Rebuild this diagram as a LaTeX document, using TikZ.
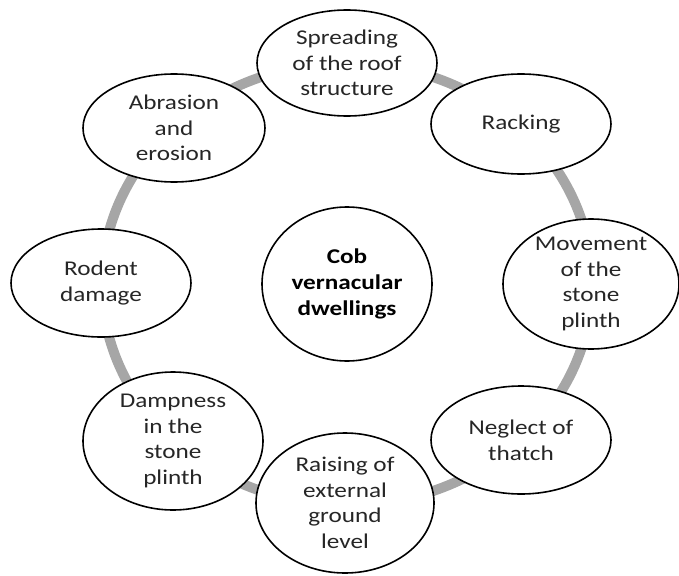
\documentclass[tikz,border=0pt]{standalone}
\usepackage{fontspec}
\setmainfont[FakeStretch=1.2]{Carlito}
\usetikzlibrary{shapes.geometric}
\definecolor{ringgray}{HTML}{A6A6A6}
\tikzset{
  bubble/.style={ellipse, draw=black, line width=1.6pt, fill=white, inner sep=0pt, outer sep=0pt},
  bubbletext/.style={align=center, inner sep=0pt, font=\fontsize{21}{25.6}\selectfont, text=black!85},
  ringline/.style={draw=ringgray, line width=10pt}
}
\begin{document}
\begin{tikzpicture}[x=1pt,y=-1pt]
\useasboundingbox (0,0) rectangle (679,575);
\coordinate (ctr) at (347,284);
\draw[ringline] (ctr) ellipse [x radius=245, y radius=221];

\node[bubble, minimum width=170pt, minimum height=154pt] (cob) at (347,284) {};
\node[bubbletext, font=\fontsize{21}{25.6}\selectfont\bfseries, text=black] (cob-t) at (cob) {Cob\\vernacular\\dwellings};

\node[bubble, minimum width=180pt, minimum height=106pt] (spr) at (347,63) {};
\node[bubbletext] (spr-t) at (spr) {Spreading\\of the roof\\structure};

\node[bubble, minimum width=180pt, minimum height=100pt] (rac) at (521,124) {};
\node[bubbletext] (rac-t) at (rac) {Racking};

\node[bubble, minimum width=176pt, minimum height=130pt] (mov) at (591,284) {};
\node[bubbletext] (mov-t) at (mov) {Movement\\of the\\stone\\plinth};

\node[bubble, minimum width=180pt, minimum height=108pt] (neg) at (521,440) {};
\node[bubbletext] (neg-t) at (neg) {Neglect of\\thatch};

\node[bubble, minimum width=178pt, minimum height=140pt] (rai) at (345,503) {};
\node[bubbletext] (rai-t) at (rai) {Raising of\\external\\ground\\level};

\node[bubble, minimum width=180pt, minimum height=138pt] (dam) at (173,441) {};
\node[bubbletext] (dam-t) at (dam) {Dampness\\in the\\stone\\plinth};

\node[bubble, minimum width=180pt, minimum height=108pt] (rod) at (101,283) {};
\node[bubbletext] (rod-t) at (rod) {Rodent\\damage};

\node[bubble, minimum width=182pt, minimum height=108pt] (abr) at (174,128) {};
\node[bubbletext] (abr-t) at (abr) {Abrasion\\and\\erosion};
\end{tikzpicture}
\end{document}
